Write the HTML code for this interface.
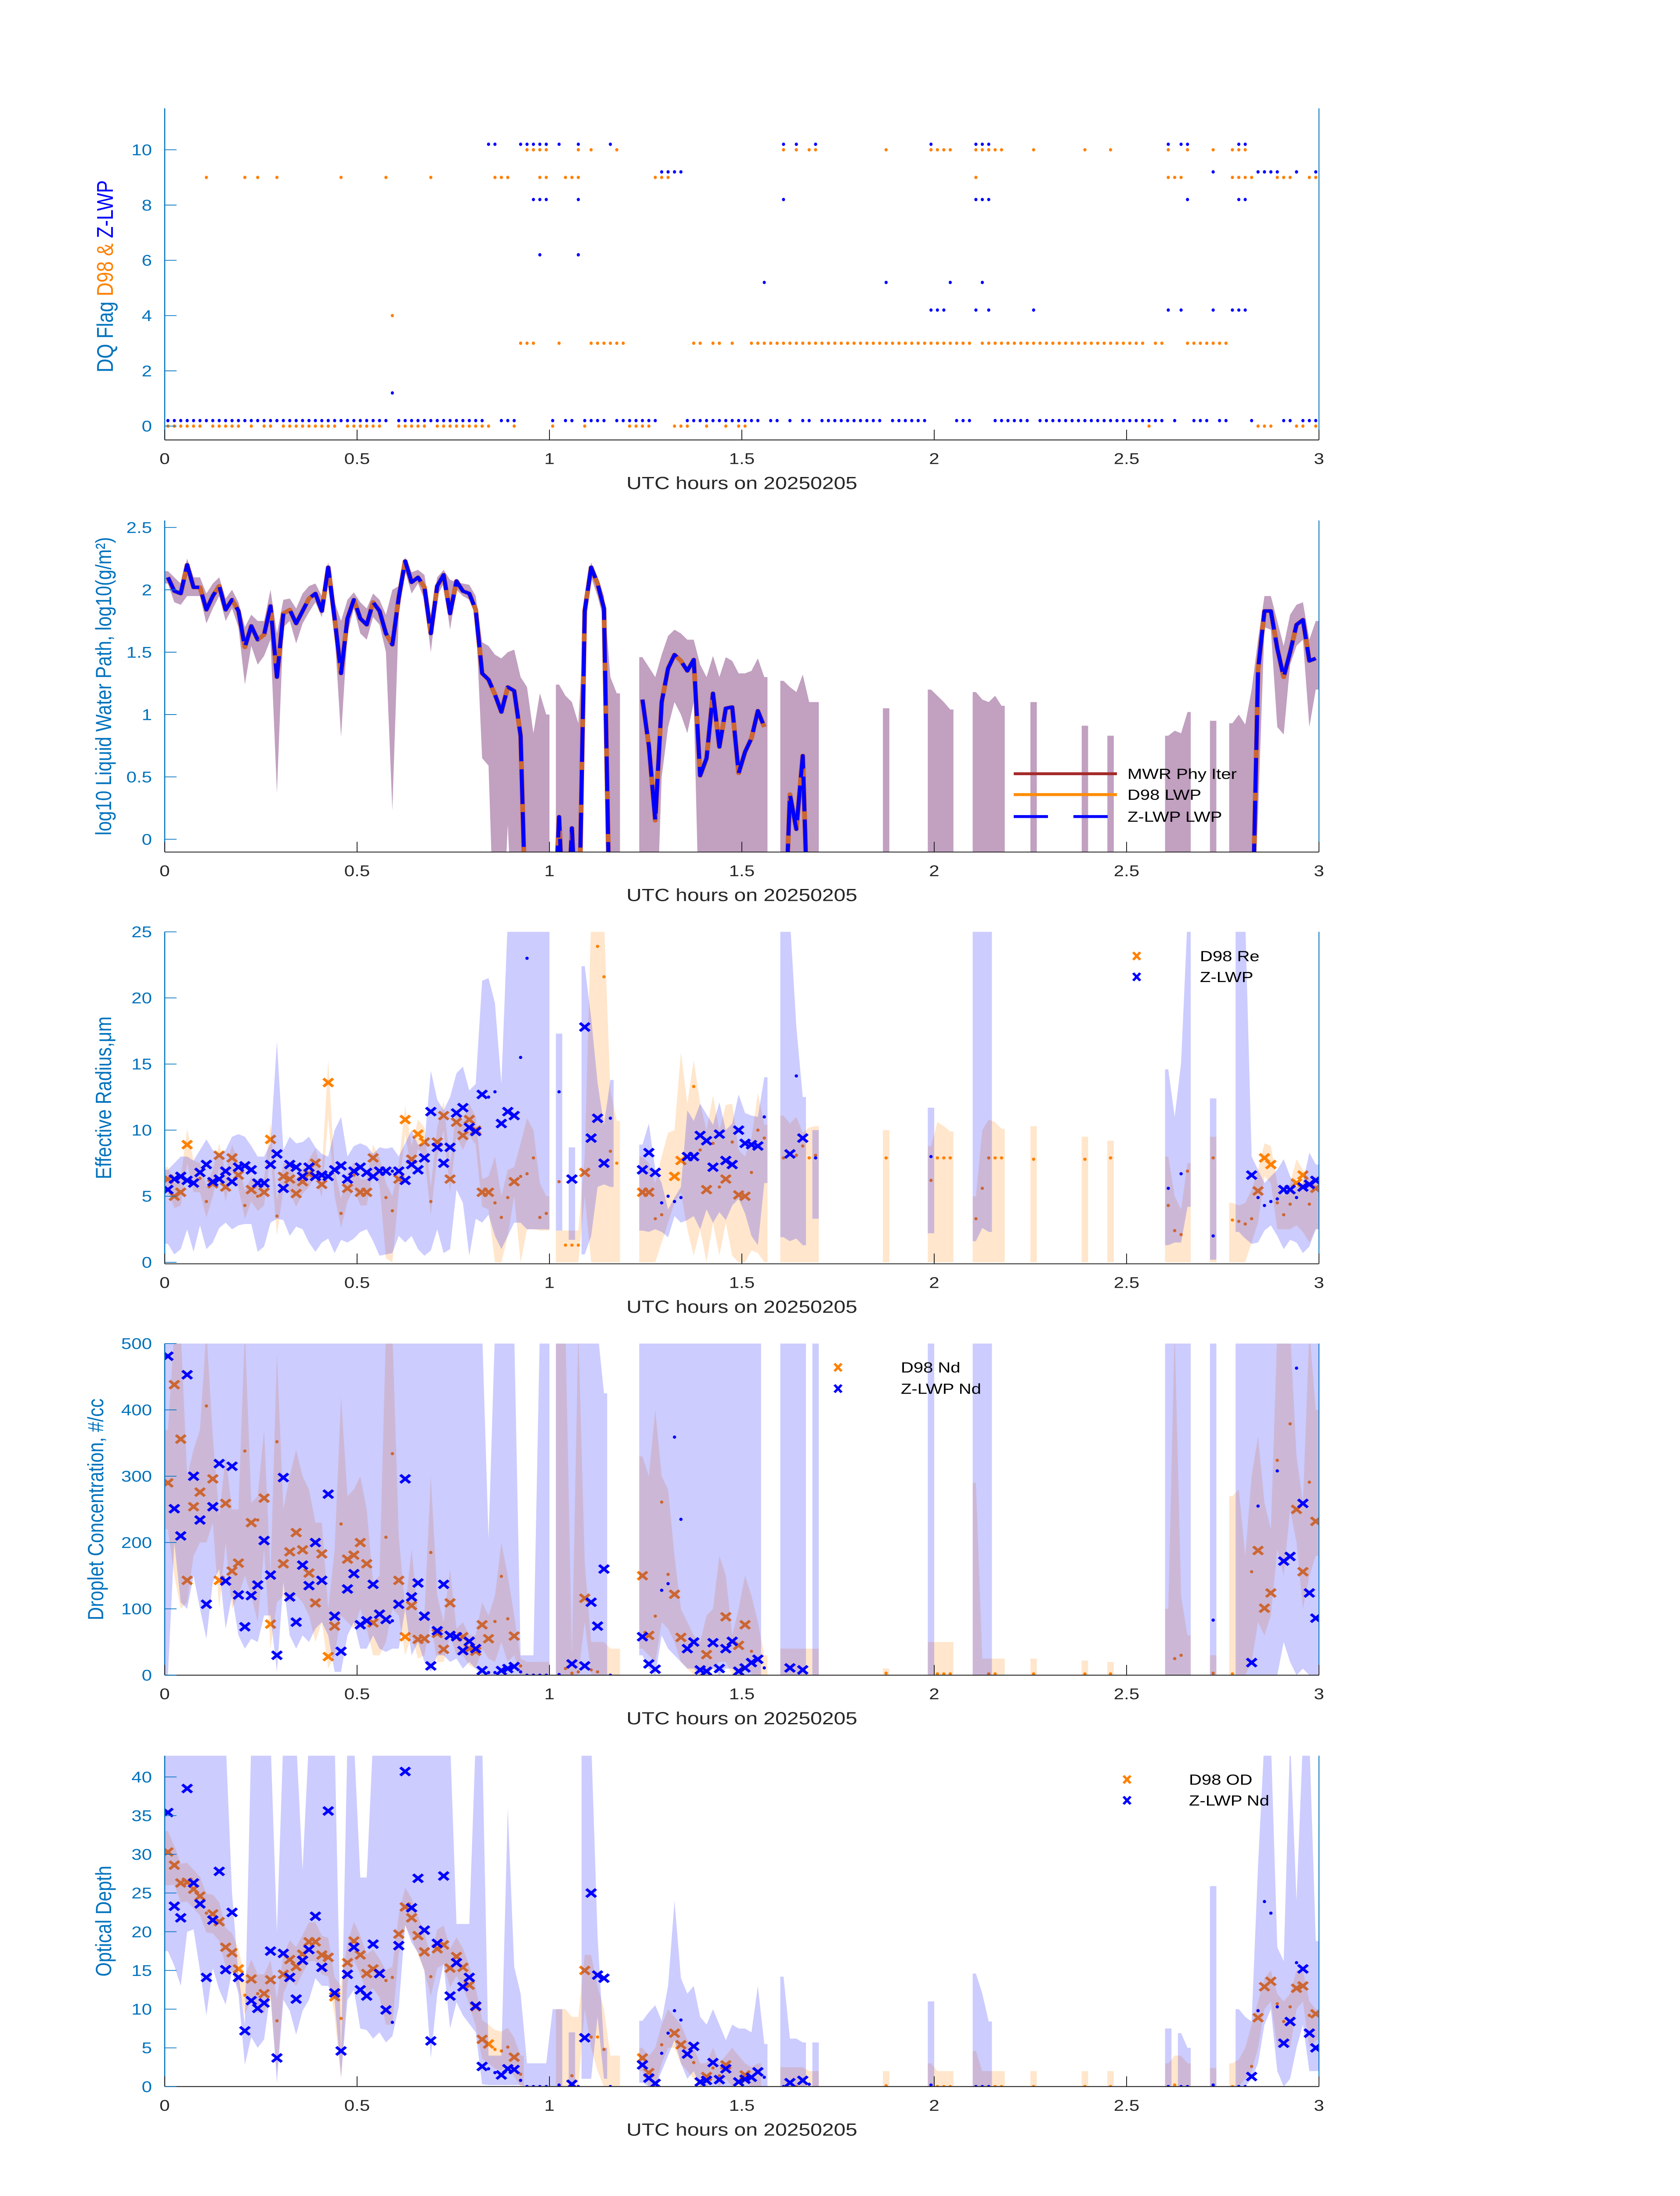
<!DOCTYPE html>
<html><head><meta charset="utf-8"><title>DQ / LWP / Re / Nd / OD</title>
<style>
html,body{margin:0;padding:0;background:#fff;width:100vw;height:100vh;overflow:hidden;}
svg{display:block;position:absolute;left:0;top:0;width:100vw;height:100vh;font-family:"Liberation Sans","DejaVu Sans",sans-serif;}
</style></head>
<body>
<svg id="fig" xmlns="http://www.w3.org/2000/svg" viewBox="0 0 3825 6000" preserveAspectRatio="none">
<rect x="0" y="0" width="3825" height="6000" fill="#fff"/>
<defs id="defs"></defs>
</svg>
<script>
// ---------------- Panel 1 data: DQ flags (runs of minute indices) ----------------
const d98Flag0=[[0,5],[7,11],[13,13],[15,16],[18,26],[28,33],[36,40],[42,50],[54,54],[60,60],[65,65],[72,75],[79,81],[84,84],[87,87],[89,90],[153,153],[170,172],[176,177],[179,179]];
const d98Flag3=[[55,57],[61,61],[66,71],[82,83],[85,86],[88,88],[91,125],[127,152],[154,155],[159,165]];
const d98Flag4=[[35,35]];
const d98Flag9=[[6,6],[12,12],[14,14],[17,17],[27,27],[34,34],[41,41],[51,53],[58,59],[62,64],[76,78],[126,126],[156,158],[166,169],[173,175],[178,179]];
const d98Flag10=[[56,59],[64,64],[66,66],[70,70],[96,96],[98,98],[100,101],[112,112],[119,122],[126,130],[135,135],[143,143],[147,147],[156,156],[159,159],[163,163],[166,168]];
const zFlag0=[[0,34],[36,49],[52,54],[60,60],[62,63],[65,68],[70,76],[81,92],[94,95],[97,97],[99,100],[102,111],[113,118],[123,125],[129,134],[136,155],[157,157],[160,162],[164,165],[169,169],[174,175],[177,179]];
const zFlag1=[[35,35]];
const zFlag4=[[119,121],[126,126],[128,128],[135,135],[156,156],[158,158],[163,163],[166,168]];
const zFlag5=[[93,93],[112,112],[122,122],[127,127]];
const zFlag6=[[58,58],[64,64]];
const zFlag8=[[57,59],[64,64],[96,96],[126,128],[159,159],[167,168]];
const zFlag9=[[77,80],[163,163],[170,173],[176,176],[179,179]];
const zFlag10=[[50,51],[55,59],[61,61],[64,64],[69,69],[96,96],[98,98],[101,101],[119,119],[126,128],[156,156],[158,159],[167,168]];

// ---------------- Panel 2 data: log10 LWP ----------------
const N=null;
const lwpZ=[2.10,1.99,1.97,2.20,2.02,2.02,1.84,1.95,2.03,1.84,1.92,1.83,1.54,1.71,1.60,1.64,1.87,1.30,1.81,1.84,1.73,1.83,1.93,1.97,1.83,2.18,1.77,1.33,1.77,1.92,1.77,1.72,1.90,1.83,1.65,1.56,1.94,2.23,2.06,2.10,2.02,1.65,2.03,2.12,1.81,2.07,1.99,1.97,1.84,1.33,1.28,1.16,1.02,1.22,1.19,0.83,
-1,-1,-1,-1,-1,0.18,-1,0.09,-1,1.83,2.18,2.05,1.85,-1,N,N,N,N,1.12,0.75,0.15,1.10,1.37,1.48,1.43,1.35,1.44,0.51,0.65,1.17,0.74,1.05,1.06,0.53,0.70,0.81,1.03,0.90,N,N,-1,0.36,0.08,0.67,-1,
N,N,N,N,N,N,N,N,N,N,N,N,N,N,N,N,N,N,N,N,N,N,N,N,N,N,N,N,N,N,N,N,N,N,N,N,N,N,N,N,N,N,N,N,N,N,N,N,N,N,N,N,N,N,N,N,N,N,N,N,N,N,N,N,N,N,N,N,
-1,1.36,1.83,1.83,1.53,1.30,1.50,1.72,1.76,1.43,1.45];
const lwpBandHi=[2.15,2.10,2.05,2.25,2.10,2.10,1.97,2.05,2.10,1.93,2.00,1.90,1.70,1.80,1.75,1.75,2.00,1.65,1.92,1.93,1.85,1.97,2.03,2.05,1.95,2.22,1.90,1.75,1.92,1.98,1.90,1.85,1.97,1.92,1.80,2.00,2.03,2.26,2.14,2.16,2.12,1.80,2.10,2.16,2.08,2.06,2.05,2.04,1.95,1.58,1.55,1.48,1.45,1.50,1.52,1.30,
1.22,0.85,1.17,1.0,N,1.24,1.15,1.1,0.93,1.85,2.22,2.1,1.95,1.3,1.17,N,N,N,1.46,1.38,1.3,1.48,1.63,1.68,1.65,1.6,1.6,1.4,1.3,1.47,1.3,1.46,1.43,1.33,1.33,1.35,1.45,1.3,N,N,1.27,1.22,1.18,1.32,1.1,1.1,
N,N,N,N,N,N,N,N,N,N,1.05,N,N,N,N,N,N,1.2,1.15,1.1,1.04,N,N,N,1.18,1.12,1.1,1.15,1.07,N,N,N,N,1.1,N,N,N,N,N,N,N,0.91,N,N,N,0.83,N,N,N,N,N,N,N,N,0.83,0.87,0.85,1.02,N,N,N,0.95,N,N,0.93,1.0,0.92,
1.2,1.6,1.95,1.95,1.75,1.55,1.8,1.88,1.9,1.6,1.75];
const lwpBandLo=[2.05,1.90,1.88,1.95,1.95,1.95,1.73,1.85,1.95,1.75,1.85,1.70,1.24,1.55,1.40,1.47,1.60,0.37,1.70,1.75,1.57,1.73,1.82,1.90,1.78,2.10,1.65,0.82,1.65,1.85,1.65,1.60,1.78,1.72,1.50,0.23,1.80,2.15,1.97,2.05,1.92,1.50,1.95,2.05,1.68,2.00,1.95,1.92,1.80,0.65,0.59,-1,-1,0.12,-1,-1,
-1,-1,-1,-1,N,-1,-1,-1,-1,1.75,2.1,1.95,1.75,-1,-1,N,N,N,-1,-1,-1,0.5,0.9,1.1,1.0,0.85,1.1,-1,-1,-1,-1,-1,-1,-1,-1,-1,-1,-1,N,N,-1,-1,-1,-1,-1,-1,
N,N,N,N,N,N,N,N,N,N,-1,N,N,N,N,N,N,-1,-1,-1,-1,N,N,N,-1,-1,-1,-1,-1,N,N,N,N,-1,N,N,N,N,N,N,N,-1,N,N,N,-1,N,N,N,N,N,N,N,N,-1,-1,-1,-1,N,N,N,-1,N,N,-1,-1,-1,
-1,0.2,1.7,1.68,0.9,0.84,1.4,1.55,1.6,0.9,1.2];

// ---------------- Panel 3 data: effective radius ----------------
const reZ=[[0,5.5],[1,6.3],[2,6.5],[3,6.2],[4,6.0],[5,6.8],[6,7.4],[7,6.1],[8,6.3],[9,6.9],[10,6.1],[11,7.2],[12,7.3],[13,7.0],[14,6.0],[15,6.0],[16,7.4],[17,8.2],[18,5.6],[19,7.4],[20,7.2],[21,6.5],[22,7.2],[23,6.5],[24,6.6],[25,6.5],[26,7.0],[27,7.3],[28,6.3],[29,6.9],[30,7.2],[31,6.8],[32,6.5],[33,6.9],[34,6.9],[36,6.9],[37,6.2],[38,7.4],[39,7.0],[40,7.9],[41,11.4],[42,8.7],[43,7.5],[44,8.7],[45,11.3],[46,11.7],[47,10.2],[48,9.9],[49,12.7],[52,10.5],[53,11.4],[54,11.1],[63,6.3],[65,17.8],[66,9.4],[67,10.9],[68,7.5],[74,7.0],[75,8.3],[76,6.8],[81,8.0],[82,8.0],[83,9.6],[84,9.2],[85,7.2],[86,9.7],[87,7.7],[88,7.4],[89,10.0],[90,9.0],[91,8.9],[92,8.8],[97,8.2],[99,9.4],[169,6.6],[174,5.5],[175,5.5],[177,5.7],[178,5.9],[179,6.2]];
const reZdot=[[35,6.9],[50,12.5],[51,12.9],[55,15.5],[56,23.0],[61,12.9],[69,10.9],[77,4.5],[78,5.0],[79,4.6],[80,4.9],[93,11.0],[98,14.1],[101,7.9],[119,8.0],[156,5.6],[158,6.7],[163,2.0],[170,4.9],[171,4.3],[172,4.6],[173,4.8],[176,4.9]];
const reD=[[0,6.3],[1,5.0],[2,5.3],[3,8.9],[7,5.95],[8,8.1],[9,5.7],[10,7.9],[11,6.6],[13,5.5],[15,5.3],[16,9.3],[18,6.5],[19,6.3],[20,5.2],[21,6.1],[22,6.7],[23,7.5],[24,5.9],[25,13.6],[28,5.6],[30,5.3],[31,5.3],[32,7.9],[36,6.3],[37,10.8],[38,7.8],[39,9.7],[40,9.1],[42,9.1],[43,11.1],[44,6.3],[45,10.6],[46,9.6],[47,10.8],[48,10.0],[49,5.3],[50,5.3],[54,6.1],[65,6.8],[74,5.3],[75,5.3],[79,6.5],[80,7.7],[84,5.5],[87,6.3],[89,5.1],[90,5.0],[170,5.4],[171,7.9],[172,7.4],[176,6.0],[177,6.6],[179,5.6]];
const reDdot=[[5,6.35],[6,4.6],[12,4.3],[14,5.0],[17,3.5],[27,3.7],[29,6.6],[34,4.9],[35,3.9],[41,4.6],[51,4.5],[52,3.4],[53,4.9],[55,6.5],[56,6.7],[57,7.9],[58,3.4],[59,3.7],[61,6.1],[62,1.3],[63,1.3],[64,1.3],[67,23.9],[68,21.6],[69,8.4],[70,7.5],[76,3.3],[77,3.6],[82,13.3],[83,8.5],[85,9.0],[86,5.7],[88,9.1],[91,6.8],[92,10.0],[93,9.4],[96,7.9],[98,8.1],[99,8.8],[100,7.9],[101,8.1],[112,7.9],[119,6.2],[120,7.9],[121,7.9],[122,7.9],[126,3.3],[127,5.6],[128,7.9],[129,7.9],[130,7.9],[135,7.8],[143,7.8],[147,7.9],[156,4.3],[157,2.4],[158,2.1],[159,6.9],[163,7.9],[166,3.2],[167,3.1],[168,2.9],[169,3.3],[173,4.5],[174,3.6],[175,4.4],[178,4.4]];
const reZBand=[[0,1.4,7],[1,0.6,7.5],[2,1,8],[3,2.5,8],[4,0.8,7.7],[5,2.8,8.5],[6,1,9.3],[7,1.5,8.5],[8,2.6,8.2],[9,3,8.5],[10,2.5,9.5],[11,2.8,9.7],[12,2.9,9.5],[13,2.9,8.8],[14,0.8,8],[15,1.2,8],[16,3,9],[17,3.3,16.7],[18,3.2,8.5],[19,2,9.5],[20,2.7,9],[21,2.5,9.1],[22,1.5,9.5],[23,0.8,8.7],[24,1.5,8.2],[25,1.8,8],[26,0.7,10],[27,1.7,11],[28,1.5,8],[29,1.8,8.8],[30,2.3,9],[31,2.5,8.8],[32,1.6,8.2],[33,0.5,8.7],[34,0.6,8.6],[35,0.7,8.7],[36,2,8],[37,1.5,9],[38,2,10],[39,1,8.9],[40,0.5,9],[41,0.9,14.5],[42,2.5,12.3],[43,0.7,11.5],[44,1,12.5],[45,5.5,14.3],[46,4.5,14.8],[47,0.5,13],[48,3.3,13.5],[49,3,21.3],[50,3.6,21.5],[51,2,19.6],[52,1,13.5],[53,2,26],[54,3,26],[55,3,26],[56,2.5,26],[57,2.5,26],[58,2.5,26],[59,2.5,26],[61,2.4,17.3],[63,1.7,8.7],[65,0.6,22.4],[66,2,18.5],[67,5.7,13.6],[68,5.9,10.4],[69,5.7,13.8],[74,2.4,8.9],[75,2.3,10.5],[76,2.5,7],[77,2.3,6],[78,1.9,4],[79,3.5,4.9],[80,3,5.7],[81,3.2,11.5],[82,3.5,10.7],[83,2.5,12],[84,4,11.2],[85,3,10.4],[86,3.8,12.1],[87,3.2,10],[88,4.3,10.5],[89,4.8,12.7],[90,3.7,11.3],[91,2,11.1],[92,1.3,11],[93,6,14],[96,1.9,26],[97,1.6,26],[98,1.8,17.8],[99,1.3,12.5],[101,3.3,10],[119,2.2,11.7],[126,1.6,26],[127,2.6,26],[128,2.3,26],[156,1.3,14.6],[157,1.5,11],[158,1.5,15.1],[159,4.2,26],[163,0.2,12.4],[167,2.3,26],[168,1.8,26],[169,1.4,8],[170,1.5,7],[171,2.4,6],[172,2.8,6.5],[173,2,7],[174,1,7.8],[175,1.7,6.5],[176,1.5,5.7],[177,0.7,6],[178,1.2,8.3],[179,2.5,7.4]];
const reDBand=[[0,5.4,7.2],[1,4.1,6.0],[2,4.3,6.4],[3,7.5,10.1],[4,5.3,7.7],[5,5.3,7.5],[6,3.4,5.8],[7,5.0,7.0],[8,7.2,9.0],[9,4.6,6.8],[10,7.0,8.9],[11,5.6,7.6],[12,3.3,5.4],[13,4.6,6.5],[14,3.9,6.0],[15,4.3,6.3],[16,8.3,10.5],[17,2.0,4.7],[18,5.5,7.5],[19,5.3,7.4],[20,4.2,6.3],[21,5.2,7.1],[22,5.7,7.8],[23,6.5,8.6],[24,4.9,6.9],[25,11,15.3],[26,5,7],[27,2.6,4.8],[28,4.6,6.7],[29,5.6,7.6],[30,4.3,6.3],[31,4.3,6.3],[32,6.9,8.9],[33,5.8,7.9],[34,0.3,6],[35,0,5],[36,5.3,7.4],[37,9.7,11.8],[38,6.8,8.8],[39,8.6,10.8],[40,8,10.2],[41,3.6,5.7],[42,8,10.2],[43,10,12.2],[44,5.3,7.4],[45,9.5,11.7],[46,8.5,10.7],[47,9.6,12],[48,8.9,11],[49,4.2,6.3],[50,4,6.5],[51,0,8],[52,0,5],[53,2,7],[54,5,7.2],[55,0,9],[56,2.5,10.9],[57,2.5,10],[58,2.4,6],[59,2.4,5],[61,0,2.4],[62,0,2.4],[63,0,2.4],[64,0,2.4],[65,5,8],[66,0,26],[67,0,26],[68,0,26],[69,0,13],[70,0,10.7],[74,0,8],[75,0,7.5],[76,0,6],[77,1.5,8],[78,3,9.8],[79,4.5,10],[80,5.3,15.9],[81,2.5,12],[82,0.5,15.3],[83,2.5,12],[84,0,10],[85,3,12.6],[86,0.5,10],[87,3,11.9],[88,0.5,12],[89,0,8.5],[90,0,8],[91,0.9,9.4],[92,0.7,12.8],[93,0,10.4],[96,0,11.1],[97,0,10.5],[98,0,11],[99,0,9.8],[100,0,10.2],[101,0,10.3],[112,0,10],[119,0,8.8],[120,0,10.6],[121,0,10.3],[122,0,9.9],[126,0,5],[127,0,10],[128,0,10.8],[129,0,10.6],[130,0,10.1],[135,0,10.3],[143,0,9.5],[147,0,9.2],[156,0,8],[157,0,5],[158,0,4],[159,0,7.5],[163,0,9.5],[166,0,4.5],[167,0,4.3],[168,0,4.5],[169,1.5,5.5],[170,3,7],[171,6.5,9],[172,6,8.8],[173,2.5,6],[174,2.5,5],[175,2.5,6],[176,2.8,7.8],[177,2.3,7],[178,1.5,6.3],[179,2.5,6.5]];

// ---------------- Panel 4 data: droplet concentration ----------------
const ndZ=[[0,481],[1,251],[2,210],[3,453],[4,300],[5,234],[6,107],[7,254],[8,319],[9,142],[10,315],[11,121],[12,73],[13,120],[14,136],[15,203],[16,151],[17,30],[18,298],[19,118],[20,80],[21,166],[22,135],[23,200],[24,143],[25,273],[26,89],[27,36],[28,130],[29,153],[30,76],[31,82],[32,137],[33,92],[34,84],[36,107],[37,296],[38,118],[39,139],[40,89],[41,14],[42,67],[43,137],[44,60],[45,58],[46,37],[47,51],[48,40],[49,7],[52,7],[53,10],[54,13],[63,17],[65,14],[66,110],[67,74],[68,160],[74,58],[75,17],[76,9],[81,40],[82,50],[83,8],[84,6],[85,49],[86,10],[87,40],[88,51],[89,6],[90,11],[91,19],[92,24],[97,11],[99,8],[169,19],[174,172],[175,179],[177,259],[178,124],[179,86]];
const ndZdot=[[35,82],[50,4],[51,4],[55,5],[56,0],[57,0],[58,0],[59,0],[61,1],[69,0],[77,128],[78,138],[79,359],[80,235],[93,11],[163,83],[170,255],[173,308],[176,463]];
const ndD=[[0,290],[1,438],[2,356],[3,143],[4,254],[5,276],[7,296],[8,143],[9,259],[10,157],[11,169],[13,230],[15,267],[16,77],[18,168],[19,186],[20,215],[21,189],[22,154],[23,109],[24,183],[25,28],[26,74],[28,175],[29,181],[30,200],[31,168],[32,79],[36,143],[37,58],[38,105],[39,54],[40,55],[42,63],[43,39],[44,109],[46,58],[47,40],[48,36],[49,76],[50,55],[54,59],[65,116],[74,150],[75,60],[79,122],[80,57],[84,31],[87,88],[89,45],[90,76],[170,188],[171,101],[172,124],[176,250],[177,156],[179,232]];
const ndDdot=[[6,406],[12,338],[14,234],[17,352],[27,228],[34,208],[35,334],[41,185],[51,81],[52,149],[53,85],[55,14],[62,10],[63,3],[64,5],[66,8],[67,5],[76,89],[77,261],[78,152],[91,36],[112,3],[120,2],[121,2],[122,2],[128,2],[129,2],[135,2],[143,2],[147,2],[157,25],[158,30],[163,3],[166,2],[169,156],[173,324],[175,379],[178,291]];
const ndZBand=[[0,0,520],[1,200,520],[2,110,520],[3,100,520],[4,150,520],[5,100,520],[6,55,520],[7,140,520],[8,160,520],[9,70,520],[10,120,520],[11,60,520],[12,40,520],[13,55,520],[14,50,520],[15,90,520],[16,90,520],[17,5,520],[18,140,520],[19,60,520],[20,40,520],[21,60,520],[22,50,520],[23,70,520],[24,80,520],[25,60,520],[26,5,520],[27,5,520],[28,60,520],[29,80,520],[30,40,520],[31,40,520],[32,60,520],[33,40,520],[34,35,520],[35,40,520],[36,40,520],[37,100,520],[38,30,520],[39,50,520],[40,20,520],[41,5,520],[42,30,520],[43,30,520],[44,20,520],[45,25,520],[46,10,520],[47,20,520],[48,10,520],[49,0,520],[50,0,205],[51,0,520],[52,0,520],[53,0,520],[54,0,520],[55,0,30],[56,0,30],[57,0,30],[58,0,520],[59,0,520],[61,0,520],[62,0,520],[63,0,520],[64,0,520],[65,0,520],[66,0,520],[67,0,520],[68,0,425],[74,30,520],[75,10,520],[76,0,520],[77,60,520],[78,40,520],[79,30,520],[80,20,520],[81,10,520],[82,10,520],[83,0,520],[84,0,520],[85,10,520],[86,0,520],[87,10,520],[88,10,520],[89,0,520],[90,0,520],[91,0,520],[92,0,520],[96,0,520],[97,0,520],[98,0,520],[99,0,520],[101,0,520],[119,0,520],[126,0,520],[127,0,520],[128,0,520],[156,0,520],[157,0,520],[158,0,520],[159,0,520],[163,0,520],[167,0,520],[168,0,520],[169,0,520],[170,0,520],[171,0,520],[172,0,520],[173,0,520],[174,50,520],[175,20,520],[176,0,520],[177,10,520],[178,0,520],[179,0,520]];
const ndDBand=[[0,220,370],[1,150,520],[2,100,520],[3,110,300],[4,180,340],[5,200,370],[6,200,520],[7,230,360],[8,100,240],[9,200,330],[10,100,250],[11,120,250],[12,150,520],[13,120,260],[14,80,270],[15,190,370],[16,40,150],[17,110,485],[18,120,250],[19,110,300],[20,120,340],[21,110,300],[22,90,280],[23,50,230],[24,80,230],[25,10,100],[26,30,190],[27,90,420],[28,80,270],[29,70,280],[30,100,300],[31,70,250],[32,30,140],[33,30,150],[34,50,520],[35,100,520],[36,90,210],[37,30,100],[38,60,190],[39,25,90],[40,30,90],[41,80,300],[42,20,120],[43,20,80],[44,60,160],[45,30,70],[46,30,80],[47,15,60],[48,10,60],[49,40,110],[50,25,90],[51,20,120],[52,50,200],[53,20,150],[54,30,90],[55,0,25],[56,0,20],[57,0,20],[58,0,20],[59,0,20],[61,0,520],[62,0,520],[63,0,30],[64,0,520],[65,80,170],[66,0,50],[67,0,50],[68,0,50],[69,0,40],[70,0,40],[74,40,330],[75,30,300],[76,20,400],[77,80,300],[78,70,280],[79,50,180],[80,20,100],[81,10,80],[82,0,60],[83,0,50],[84,0,90],[85,10,100],[86,20,180],[87,20,150],[88,0,60],[89,0,100],[90,20,150],[91,0,120],[92,0,80],[93,0,30],[96,0,40],[97,0,40],[98,0,40],[99,0,40],[100,0,40],[101,0,40],[112,0,10],[119,0,50],[120,0,50],[121,0,50],[122,0,50],[126,0,290],[127,0,25],[128,0,25],[129,0,25],[130,0,25],[135,0,25],[143,0,22],[147,0,20],[156,0,100],[157,0,520],[158,0,120],[159,0,60],[163,0,30],[166,0,270],[167,0,280],[168,0,180],[169,20,300],[170,80,360],[171,60,260],[172,90,220],[173,190,520],[174,150,520],[175,250,520],[176,200,330],[177,100,260],[178,150,520],[179,180,400]];

// ---------------- Panel 5 data: optical depth ----------------
const odZ=[[0,35.4],[1,23.3],[2,21.8],[3,38.5],[4,26.3],[5,23.6],[6,14.1],[7,21.5],[8,27.8],[9,15.1],[10,22.5],[11,14.1],[12,7.2],[13,11.1],[14,10.1],[15,10.8],[16,17.5],[17,3.7],[18,17.2],[19,14.1],[20,11.3],[21,16.3],[22,17.7],[23,22.0],[24,15.4],[25,35.6],[26,12.1],[27,4.6],[28,14.5],[29,18.0],[30,12.5],[31,11.7],[32,18.4],[33,14.6],[34,9.9],[36,18.2],[37,40.7],[38,23.1],[39,26.9],[40,20.2],[41,5.9],[42,18.5],[43,27.2],[44,11.7],[45,16.0],[46,12.9],[47,14.1],[48,10.4],[49,2.6],[52,1.5],[53,2.3],[54,2.2],[63,0.3],[65,6.3],[66,25.0],[67,14.4],[68,14.0],[74,2.8],[75,1.1],[76,0.4],[81,4.2],[82,5.2],[83,0.6],[84,0.8],[85,3.1],[86,0.9],[87,2.3],[89,0.6],[90,0.95],[91,1.2],[92,1.9],[97,0.5],[99,0.8],[169,1.3],[174,5.6],[175,8.4],[177,15.2],[178,6.9],[179,5.0]];
const odZdot=[[35,8.3],[50,2.3],[51,1.8],[55,0.8],[56,0],[57,0],[58,0],[59,0],[61,0.2],[64,0],[69,0],[77,4.3],[78,6.9],[79,9.8],[80,8.6],[93,1.2],[96,0],[100,0.3],[119,0.2],[126,0],[127,0],[128,0],[156,0],[158,0],[159,0],[163,0.2],[167,0],[168,0],[170,9.8],[171,23.9],[172,22.4],[173,10.3],[176,16.0]];
const odD=[[0,30.3],[1,28.6],[2,26.3],[3,26.4],[4,25.5],[5,24.6],[7,22.3],[8,21.3],[9,18.0],[10,17.3],[11,15.2],[13,13.9],[15,12.0],[16,13.8],[18,14.5],[19,16.4],[20,15.5],[21,17.1],[22,18.7],[23,18.7],[24,17.0],[25,16.7],[26,11.6],[28,16.0],[29,18.8],[30,17.0],[31,14.6],[32,15.2],[36,19.7],[37,23.2],[38,21.8],[39,19.5],[40,17.4],[42,17.8],[43,18.3],[44,15.3],[45,16.8],[46,15.4],[47,13.1],[48,10.3],[49,6.1],[50,5.5],[54,3.8],[65,15.0],[74,3.7],[75,1.8],[79,6.9],[80,5.4],[84,1.3],[87,2.8],[90,1.5],[170,8.9],[171,12.9],[172,13.6],[176,12.7],[177,13.0],[179,9.4]];
const odDdot=[[6,22.4],[12,11.8],[14,12.0],[17,8.5],[27,8.8],[34,13.7],[35,14.1],[41,14.2],[51,4.8],[52,4.6],[53,5.1],[55,1.6],[61,0.1],[63,1.4],[66,6.4],[67,6.4],[68,4.8],[77,5.4],[82,3.1],[85,2.4],[86,1.4],[98,0],[112,0.1],[120,0],[121,0],[122,0],[129,0],[130,0],[135,0],[143,0],[147,0],[157,0.2],[166,0],[169,2.6],[173,10.7],[174,8.4],[175,10.3],[178,9.2]];
const odZBand=[[0,17.5,45],[1,15.6,45],[2,13,45],[3,20,45],[4,20.3,45],[5,15,45],[6,9.2,45],[7,15.3,45],[8,12.5,45],[9,10.6,45],[10,15,25],[11,12,14.5],[12,2.8,8],[13,6.4,45],[14,5,45],[15,6.1,45],[16,12,45],[17,0.5,20],[18,11.2,45],[19,9.8,45],[20,6.7,45],[21,9.8,28],[22,11.2,45],[23,14,45],[24,13,45],[25,13,45],[26,11.2,45],[27,1.2,4],[28,11.2,45],[29,12.5,45],[30,7.5,27],[31,7.3,27],[32,6.2,45],[33,7,45],[34,5.7,45],[35,6.5,45],[36,10.3,45],[37,20.9,45],[38,18.6,45],[39,17.3,45],[40,15,45],[41,3.7,45],[42,12,45],[43,15.9,45],[44,7.5,45],[45,10.9,21],[46,9.2,21],[47,8.1,21],[48,7,45],[49,0.3,45],[50,0.2,4],[51,0.2,4],[52,0.2,4],[53,0.2,36],[54,0.2,15.5],[55,0.2,12],[56,0,3],[57,0,3],[58,0,3],[59,0,3],[60,0,10],[61,0,10],[63,0,7],[65,1,45],[66,1,45],[67,9,19.5],[68,1,5],[74,0.5,8.5],[75,0,9.6],[76,0,10.5],[77,2,8.5],[78,4,13],[79,6,24],[80,3,14],[81,1,12],[82,2,13],[83,0,9],[84,0,8],[85,0,10],[86,0,8],[87,0,6],[88,0,8],[89,0.5,7.5],[90,0,7.5],[91,0,7],[92,0,13],[93,0,5.5],[96,0,14.2],[97,0,6.2],[98,0,6.2],[99,0,5.7],[101,0,5.7],[119,0,11],[126,0,14.6],[127,0,12],[128,0,8.4],[156,0,7.5],[158,0,6.9],[159,0,5],[163,0,25.9],[167,0,10],[168,0,9],[169,1,8.4],[170,3,28.6],[171,8,45],[172,10,45],[173,2,18],[174,0,16.2],[175,1,45],[176,5,24],[177,8,45],[178,2,45],[179,2,18.8]];
const odDBand=[[0,26,33],[1,26.1,31.1],[2,23.8,28.8],[3,23.9,28.9],[4,23,28],[5,22.1,27.1],[6,19.9,24.9],[7,19.8,24.8],[8,18.8,23.8],[9,15.5,20.5],[10,14.8,19.8],[11,12.7,17.7],[12,9.3,14.3],[13,11.4,16.4],[14,9.5,14.5],[15,9.5,14.5],[16,11.3,16.3],[17,1.7,11.3],[18,12,17],[19,13.9,18.9],[20,13,18],[21,14.6,19.6],[22,16.2,21.2],[23,16.2,21.2],[24,14.5,19.5],[25,14.2,19.2],[26,9.1,14.1],[27,1,13],[28,13.5,18.5],[29,16.3,21.3],[30,14.5,19.5],[31,12.1,17.1],[32,12.7,17.7],[33,11.5,16.5],[34,8,15],[35,8,15.5],[36,17.2,22.2],[37,20.7,25.7],[38,19.3,24.3],[39,17,22],[40,14.9,19.9],[41,11.7,16.7],[42,15.3,20.3],[43,15.8,20.8],[44,12.8,17.8],[45,14.3,19.3],[46,12.9,17.9],[47,10.6,15.6],[48,7.8,12.8],[49,3.6,8.6],[50,3,8],[51,2.3,7.3],[52,2.1,7.1],[53,2.6,7.6],[54,1.3,6.3],[55,0,4],[61,0,10],[62,0,10],[63,0,9],[64,0,9],[65,10,17],[66,5,17],[67,2,13],[68,0,10],[69,0,4],[70,0,4],[74,2,5],[75,0,4],[76,0,5],[77,3,8],[78,5,10],[79,5,9],[80,3,8],[81,2,6],[82,1,5],[83,0,3],[84,0,3],[85,1,5],[86,0,3],[87,1,4],[88,0,5],[89,0,4],[90,0.5,3],[91,0,2.5],[92,0,3],[96,0,2.5],[97,0,2.5],[98,0,2.5],[99,0,2.5],[100,0,2],[101,0,2],[112,0,2],[119,0,3],[120,0,2],[121,0,2],[122,0,2],[126,0,4.6],[127,0,2],[128,0,2],[129,0,2],[130,0,2],[135,0,2],[143,0,2],[147,0,2],[156,0,3],[157,0,4],[158,0,4],[159,0,3],[163,0,2.4],[166,0,3],[167,0,3.5],[168,1,5],[169,2,8],[170,5,11],[171,10,14],[172,11,15],[173,5,12],[174,6,11],[175,5,12],[176,10,15],[177,11,15],[178,5,11],[179,6,10]];

// ---------------- tick labels ----------------
const xTicks=[0,0.5,1,1.5,2,2.5,3];
const xTickLabels=["0","0.5","1","1.5","2","2.5","3"];
const p1Ticks=[0,2,4,6,8,10];
const p2Ticks=[0,0.5,1,1.5,2,2.5];
const p3Ticks=[0,5,10,15,20,25];
const p4Ticks=[0,100,200,300,400,500];
const p5Ticks=[0,5,10,15,20,25,30,35,40];

// ---------------- drawing ----------------
const NS="http://www.w3.org/2000/svg";
const svg=document.getElementById('fig');
const defs=document.getElementById('defs');
const X0=375,X1=3003;
function xOf(i){return X0+((i+0.5)/60)/3*(X1-X0);}
function xT(t){return X0+t/3*(X1-X0);}
const HALF=(X1-X0)/180/2;
function mk(tag,attrs,parent){const e=document.createElementNS(NS,tag);for(const k in attrs)e.setAttribute(k,attrs[k]);(parent||svg).appendChild(e);return e;}

const panels=[
 {id:'p1',yt:296,yb:1202,vmin:-0.5,vmax:11.5,ticks:p1Ticks},
 {id:'p2',yt:1422,yb:2328,vmin:-0.1027,vmax:2.556,ticks:p2Ticks},
 {id:'p3',yt:2546,yb:3453,vmin:-0.11,vmax:25,ticks:p3Ticks},
 {id:'p4',yt:3671,yb:4577,vmin:0,vmax:500,ticks:p4Ticks},
 {id:'p5',yt:4797,yb:5701,vmin:0,vmax:42.74,ticks:p5Ticks}
];
panels.forEach(p=>{
 p.y=v=>p.yb-(v-p.vmin)/(p.vmax-p.vmin)*(p.yb-p.yt);
 const cp=mk('clipPath',{id:'clip-'+p.id},defs);
 mk('rect',{x:X0,y:p.yt,width:X1-X0,height:p.yb-p.yt},cp);
 p.g=mk('g',{'clip-path':'url(#clip-'+p.id+')'});
 
 
});

function runsToIdx(runs){const a=[];runs.forEach(r=>{for(let i=r[0];i<=r[1];i++)a.push(i);});return a;}
function drawFlags(p,runs,val,color,name){
 const g=mk('g',{},p.g);
 
 
 runsToIdx(runs).forEach(i=>{
  const c=mk('ellipse',{cx:xOf(i),cy:p.y(val),rx:3.6,ry:4.6,fill:color},g);
  
  
 });
}
function bandRuns(tr){const runs=[];let cur=[];tr.forEach(t=>{if(cur.length&&t[0]!==cur[cur.length-1][0]+1){runs.push(cur);cur=[];}cur.push(t);});if(cur.length)runs.push(cur);return runs;}
function drawBand(p,tr,fill,opacity,name){
 const g=mk('g',{},p.g);
 
 
 bandRuns(tr).forEach(run=>{
  const top=[],bot=[];
  const f=run[0],l=run[run.length-1];
  top.push([xOf(f[0])-HALF,p.y(f[2])]);
  run.forEach(t=>top.push([xOf(t[0]),p.y(t[2])]));
  top.push([xOf(l[0])+HALF,p.y(l[2])]);
  bot.push([xOf(l[0])+HALF,p.y(l[1])]);
  for(let k=run.length-1;k>=0;k--)bot.push([xOf(run[k][0]),p.y(run[k][1])]);
  bot.push([xOf(f[0])-HALF,p.y(f[1])]);
  const pts=top.concat(bot).map(q=>q[0].toFixed(1)+','+q[1].toFixed(1)).join(' ');
  const poly=mk('polygon',{points:pts,fill:fill,'fill-opacity':opacity,stroke:'none'},g);
  
  
 });
}
function drawX(p,pairs,color,name,s){
 s=s||11;
 const g=mk('g',{},p.g);
 
 
 pairs.forEach(q=>{
  const x=xOf(q[0]),y=p.y(q[1]);
  const m=mk('path',{d:`M${x-s},${y-s}L${x+s},${y+s}M${x-s},${y+s}L${x+s},${y-s}`,stroke:color,'stroke-width':7,fill:'none'},g);
  
  
 });
}
function drawDots(p,pairs,color,name){
 const g=mk('g',{},p.g);
 
 
 pairs.forEach(q=>{
  const c=mk('ellipse',{cx:xOf(q[0]),cy:p.y(q[1]),rx:3.8,ry:4.4,fill:color},g);
  
  
 });
}
function seriesRuns(arr){const runs=[];let cur=[];arr.forEach((v,i)=>{if(v===null){if(cur.length)runs.push(cur);cur=[];}else cur.push([i,v]);});if(cur.length)runs.push(cur);return runs;}

// ---- Panel 1 ----
const P1=panels[0];
drawFlags(P1,d98Flag0,0,'#FF8000','d98-flag-0');
drawFlags(P1,d98Flag3,3,'#FF8000','d98-flag-3');
drawFlags(P1,d98Flag4,4,'#FF8000','d98-flag-4');
drawFlags(P1,d98Flag9,9,'#FF8000','d98-flag-9');
drawFlags(P1,d98Flag10,10,'#FF8000','d98-flag-10');
drawFlags(P1,zFlag0,0.2,'#0000FF','zlwp-flag-0');
drawFlags(P1,zFlag1,1.2,'#0000FF','zlwp-flag-1');
drawFlags(P1,zFlag4,4.2,'#0000FF','zlwp-flag-4');
drawFlags(P1,zFlag5,5.2,'#0000FF','zlwp-flag-5');
drawFlags(P1,zFlag6,6.2,'#0000FF','zlwp-flag-6');
drawFlags(P1,zFlag8,8.2,'#0000FF','zlwp-flag-8');
drawFlags(P1,zFlag9,9.2,'#0000FF','zlwp-flag-9');
drawFlags(P1,zFlag10,10.2,'#0000FF','zlwp-flag-10');

// ---- Panel 2 ----
const P2=panels[1];
const lwpBand=[];
lwpBandHi.forEach((h,i)=>{if(h!==null&&lwpBandLo[i]!==null)lwpBand.push([i,lwpBandLo[i],h]);});
drawBand(P2,lwpBand,'#C1A0C0',1,'lwp-uncertainty-band');
function drawLine(p,arr,color,w,dash,name){
 const g=mk('g',{},p.g);
 
 
 seriesRuns(arr).forEach(run=>{
  if(run.length<2)return;
  const d=run.map((q,k)=>(k?'L':'M')+xOf(q[0]).toFixed(1)+','+p.y(q[1]).toFixed(1)).join('');
  const a={d:d,stroke:color,'stroke-width':w,fill:'none','stroke-linejoin':'round'};
  if(dash)a['stroke-dasharray']=dash;
  const pa=mk('path',a,g);
  
  
 });
}
drawLine(P2,lwpZ,'#CC6633',11,null,'d98-lwp-line');
drawLine(P2,lwpZ,'#0000FF',9,'95 22','zlwp-lwp-line');

// ---- Panels 3-5 ----
function drawSca(p,dBand,dX,dDot,zBand,zX,zDot,pre){
 drawBand(p,dBand,'#FF8000',0.2,pre+'-d98-band');
 drawX(p,dX,'#FF8000',pre+'-d98-markers');
 drawDots(p,dDot,'#FF8000',pre+'-d98-flagged');
 drawBand(p,zBand,'#0000FF',0.2,pre+'-zlwp-band');
 drawX(p,zX,'#0000FF',pre+'-zlwp-markers');
 drawDots(p,zDot,'#0000FF',pre+'-zlwp-flagged');
}
drawSca(panels[2],reDBand,reD,reDdot,reZBand,reZ,reZdot,'re');
drawSca(panels[3],ndDBand,ndD,ndDdot,ndZBand,ndZ,ndZdot,'nd');
drawSca(panels[4],odDBand,odD,odDdot,odZBand,odZ,odZdot,'od');

// ---- Axes ----
const yLabels=[
 null,
 'log10 Liquid Water Path, log10(g/m\u00B2)',
 'Effective Radius,\u03BCm',
 'Droplet Concentration, #/cc',
 'Optical Depth'
];
panels.forEach((p,k)=>{
 const ax=mk('g',{});
 
 
 mk('line',{x1:X0,y1:p.yt,x2:X0,y2:p.yb,stroke:'#0072BD','stroke-width':2.5},ax);
 mk('line',{x1:X1,y1:p.yt,x2:X1,y2:p.yb,stroke:'#0072BD','stroke-width':2},ax);
 mk('line',{x1:X0,y1:p.yb,x2:X1,y2:p.yb,stroke:'#262626','stroke-width':2.5},ax);
 xTicks.forEach((t,j)=>{
  mk('line',{x1:xT(t),y1:p.yb,x2:xT(t),y2:p.yb-28,stroke:'#262626','stroke-width':2},ax);
  const tx=mk('text',{x:xT(t),y:p.yb+66,'font-size':42,fill:'#262626','text-anchor':'middle'},ax);
  tx.textContent=xTickLabels[j];
  
  
 });
 p.ticks.forEach(v=>{
  const y=p.y(v);
  mk('line',{x1:X0,y1:y,x2:X0+27,y2:y,stroke:'#0072BD','stroke-width':2},ax);
  const tx=mk('text',{x:346,y:y+15,'font-size':42,fill:'#0072BD','text-anchor':'end'},ax);
  tx.textContent=String(v);
  
  
 });
 const xl=mk('text',{x:1689,y:p.yb+134,'font-size':48,fill:'#262626','text-anchor':'middle'},ax);
 xl.textContent='UTC hours on 20250205';
 
 
 if(k>0){
  const cy=(p.yt+p.yb)/2;
  const yl=mk('text',{x:0,y:0,'font-size':50,fill:'#0072BD','text-anchor':'middle',transform:`translate(${k===3?235:253},${cy}) rotate(-90)`},ax);
  yl.textContent=yLabels[k];
  
  
 }
});
// panel 1 multi-colour y label
(function(){
 const cy=755;
 const yl=mk('text',{x:0,y:0,'font-size':52,'text-anchor':'middle',transform:`translate(257,${cy}) rotate(-90)`});
 
 
 const a=mk('tspan',{fill:'#0072BD'},yl);a.textContent='DQ Flag  ';
 const b=mk('tspan',{fill:'#FF8000'},yl);b.textContent='D98 & ';
 const c=mk('tspan',{fill:'#0000FF'},yl);c.textContent=' Z-LWP';
})();

// ---- Legends ----
(function(){
 const lg=mk('g',{});
 
 
 const rows=[['MWR Phy Iter','#A52A2A',null,2114],['D98 LWP','#FF8C00',null,2171],['Z-LWP LWP','#0000FF','78 58',2231]];
 rows.forEach(r=>{
  const a={x1:2308,y1:r[3],x2:2543,y2:r[3],stroke:r[1],'stroke-width':8};
  if(r[2])a['stroke-dasharray']=r[2];
  const ln=mk('line',a,lg);
  
  
  const t=mk('text',{x:2567,y:r[3]+14,'font-size':40,fill:'#000'},lg);
  t.textContent=r[0];
  
  
 });
})();
function xLegend(name,mx,tx,y1,y2,l1,l2){
 const lg=mk('g',{});
 
 
 [[y1,'#FF8000',l1],[y2,'#0000FF',l2]].forEach(r=>{
  const s=8;
  const m=mk('path',{d:`M${mx-s},${r[0]-s*1.3}L${mx+s},${r[0]+s*1.3}M${mx-s},${r[0]+s*1.3}L${mx+s},${r[0]-s*1.3}`,stroke:r[1],'stroke-width':6,fill:'none'},lg);
  
  
  const t=mk('text',{x:tx,y:r[0]+14,'font-size':40,fill:'#000'},lg);
  t.textContent=r[2];
  
  
 });
}
xLegend('re-legend',2588,2732,2612,2669,'D98 Re','Z-LWP');
xLegend('nd-legend',1908,2051,3736,3794,'D98 Nd','Z-LWP Nd');
xLegend('od-legend',2566,2707,4862,4919,'D98 OD','Z-LWP Nd');
</script>
</body></html>
